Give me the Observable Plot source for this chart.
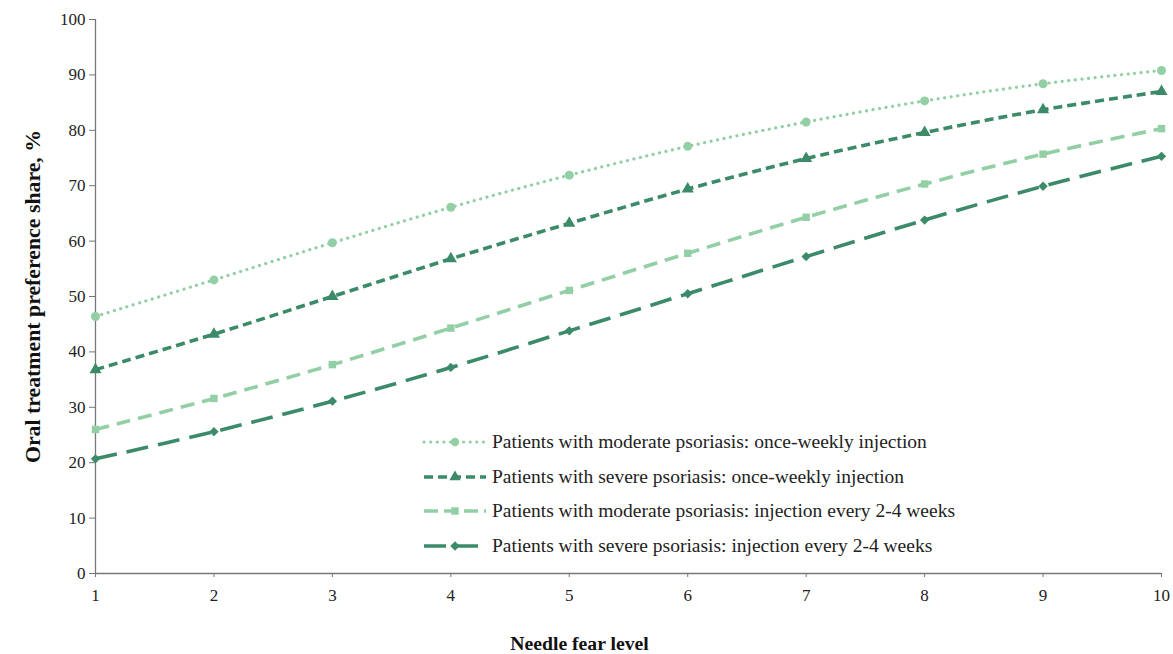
<!DOCTYPE html>
<html><head><meta charset="utf-8">
<script src="https://cdn.jsdelivr.net/npm/d3@7"></script>
<script src="https://cdn.jsdelivr.net/npm/@observablehq/plot@0.6"></script>
<style>
html,body{margin:0;padding:0;background:#fff;}
#wrap{position:relative;width:1173px;height:654px;}
#legend{position:absolute;left:422px;top:425px;font-family:'Liberation Serif',serif;font-size:19.5px;color:#222;}
#legend .row{display:flex;align-items:center;height:34.5px;}
#legend svg{margin-right:4px;}
</style></head>
<body><div id="wrap"><div id="chart"></div><div id="legend"></div></div>
<script>
const levels = [1,2,3,4,5,6,7,8,9,10];
const seriesNames = [
  "Patients with moderate psoriasis: once-weekly injection",
  "Patients with severe psoriasis: once-weekly injection",
  "Patients with moderate psoriasis: injection every 2-4 weeks",
  "Patients with severe psoriasis: injection every 2-4 weeks"
];
const moderateWeekly = [46.4,53.0,59.7,66.1,71.9,77.1,81.5,85.3,88.4,90.8];
const severeWeekly   = [36.8,43.2,50.0,56.8,63.2,69.4,74.9,79.6,83.7,87.0];
const moderate2to4   = [26.0,31.6,37.7,44.3,51.1,57.8,64.3,70.3,75.7,80.3];
const severe2to4     = [20.7,25.6,31.1,37.2,43.8,50.5,57.2,63.8,69.9,75.3];
const yTicks = [0,10,20,30,40,50,60,70,80,90,100];

const light = "#93cfa5", dark = "#3b8a68";
const styles = [
  {color: light, dash: "0.1,6.5", width: 3.2, symbol: "circle", r: 4.5},
  {color: dark,  dash: "9,5",     width: 3.6, symbol: "triangle", r: 4.5},
  {color: light, dash: "14,8",    width: 3.6, symbol: "square", r: 4.2},
  {color: dark,  dash: "22,10",   width: 3.6, symbol: "diamond2", r: 4.2}
];
const allSeries = [moderateWeekly, severeWeekly, moderate2to4, severe2to4];
const data = allSeries.flatMap((vals, si) => vals.map((v, i) => ({level: levels[i], value: v, s: si})));

const marks = [
  Plot.ruleX([1], {stroke: "#777", strokeWidth: 1.3}),
  Plot.ruleY([0], {stroke: "#777", strokeWidth: 1.3}),
  Plot.axisY({ticks: yTicks, tickSize: 6, tickPadding: 4, fontSize: 17, label: null, stroke: "#777"}),
  Plot.axisX({ticks: levels, tickSize: 4, tickPadding: 11, fontSize: 17, label: null, stroke: "#777"})
];
styles.forEach((st, si) => {
  const d = data.filter(r => r.s === si);
  marks.push(Plot.line(d, {x: "level", y: "value", stroke: st.color, strokeWidth: st.width,
    strokeDasharray: st.dash, strokeLinecap: si === 0 ? "round" : "butt", curve: "catmull-rom"}));
  marks.push(Plot.dot(d, {x: "level", y: "value", symbol: () => st.symbol, fill: st.color, stroke: "none", r: st.r}));
});
marks.push(Plot.text(["Oral treatment preference share, %"], {frameAnchor: "left", dx: -62, rotate: -90,
  textAnchor: "middle", lineAnchor: "middle", fontWeight: "bold", fontSize: 21.8, fill: "#111"}));
marks.push(Plot.text(["Needle fear level"], {frameAnchor: "bottom", dy: 70, dx: -49,
  textAnchor: "middle", lineAnchor: "middle", fontWeight: "bold", fontSize: 19.7, fill: "#111"}));

const chart = Plot.plot({
  width: 1173, height: 654,
  marginLeft: 95, marginRight: 12, marginTop: 19, marginBottom: 81,
  style: {fontFamily: "'Liberation Serif', serif", color: "#222", background: "#fff"},
  x: {domain: [1, 10]},
  y: {domain: [0, 100]},
  symbol: {type: "identity"},
  marks
});
document.getElementById("chart").appendChild(chart);

const lg = document.getElementById("legend");
styles.forEach((st, si) => {
  const row = document.createElement("div");
  row.className = "row";
  const ns = "http://www.w3.org/2000/svg";
  const svg = document.createElementNS(ns, "svg");
  svg.setAttribute("width", 66); svg.setAttribute("height", 14);
  const line = document.createElementNS(ns, "line");
  line.setAttribute("x1", 2); line.setAttribute("x2", 64); line.setAttribute("y1", 7); line.setAttribute("y2", 7);
  line.setAttribute("stroke", st.color); line.setAttribute("stroke-width", st.width);
  line.setAttribute("stroke-dasharray", si === 0 ? "0.1,6.5" : si === 1 ? "9,5" : si === 2 ? "14,6" : "22,10");
  line.setAttribute("stroke-linecap", si === 0 ? "round" : "butt");
  svg.appendChild(line);
  const sym = d3.symbol().type(si === 0 ? d3.symbolCircle : si === 1 ? d3.symbolTriangle : si === 2 ? d3.symbolSquare : d3.symbolSquare2).size(55)();
  const p = document.createElementNS(ns, "path");
  p.setAttribute("d", sym); p.setAttribute("fill", st.color);
  p.setAttribute("transform", "translate(33,7)" + (si === 3 ? " rotate(45)" : ""));
  svg.appendChild(p);
  row.appendChild(svg);
  const t = document.createElement("span");
  t.textContent = seriesNames[si];
  row.appendChild(t);
  lg.appendChild(row);
});
</script></body></html>
